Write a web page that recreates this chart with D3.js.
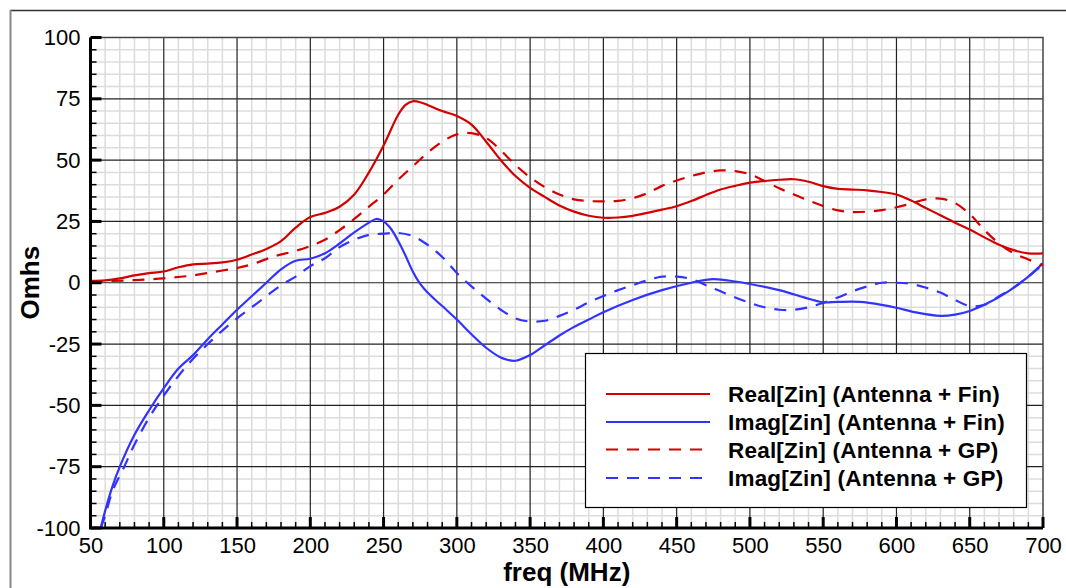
<!DOCTYPE html>
<html>
<head>
<meta charset="utf-8">
<script src="https://cdn.jsdelivr.net/npm/d3@7/dist/d3.min.js"></script>
<style>
  html, body { margin: 0; padding: 0; background: #fff; }
  svg { display: block; font-family: "Liberation Sans", Arial, sans-serif; }
</style>
</head>
<body>
<svg id="chart" width="1066" height="588"></svg>
<script>
// Input impedance of the antenna vs frequency
const freqFinReal = [50,60,70,80,90,100,110,120,130,140,150,160,170,180,190,200,210,220,230,240,250,260,265,270,275,280,290,300,310,320,330,340,350,360,370,380,390,400,410,420,430,440,450,460,470,480,490,500,510,520,530,540,550,560,570,580,590,600,610,620,630,640,650,660,670,680,690,700];
const realFin = [0.8,1,1.8,3,3.9,4.6,6.3,7.5,7.8,8.3,9.4,11.5,13.8,17,22.5,26.8,28.5,31,36,45,56,68.5,72.5,74,73.6,72.5,70,68,64.5,57.5,50,43.5,38.7,35,31.5,29,27.3,26.5,26.6,27.3,28.5,29.8,31.2,33.3,35.8,38,39.5,40.8,41.5,42,42.2,41.2,39.4,38.3,38,37.7,37,36,33.5,30.5,27.5,24.5,21.7,18.5,15.5,13.3,12,12];

const freqFinImag = [57,60,65,70,80,90,100,110,120,130,140,150,160,170,180,190,200,210,220,230,240,245,250,255,260,265,270,275,280,290,300,310,320,330,335,340,350,360,370,380,390,400,420,440,460,475,490,500,520,540,550,560,575,590,600,615,630,640,650,660,675,690,700];
const imagFin = [-100,-93,-83,-75,-62,-52,-43,-35,-29.5,-23,-17,-11,-5.5,0,5.5,9,9.8,12,16,20.5,24.5,26,25,22,17,11,4.5,-0.5,-4,-9.5,-15,-21,-26.5,-30.5,-31.5,-31.8,-29.5,-25.5,-21.5,-18,-15,-12,-7,-3,0,1.5,0.5,-0.5,-3,-6.5,-8,-7.8,-7.8,-9,-10.2,-12.3,-13.5,-13,-11.5,-9,-4,2.5,8];

const freqGpReal = [50,60,80,100,120,140,150,160,175,190,200,210,220,230,240,250,260,270,280,290,300,310,320,330,340,350,360,370,380,390,400,410,420,430,440,450,460,470,480,490,500,510,520,530,540,550,560,570,580,590,600,610,620,630,640,650,660,670,680,690,700];
const realGp = [0.3,0.6,1.1,1.8,3,5,6,7.5,10.7,13,15,17.5,21.5,26,31,36,42,47.5,53,57.5,60.5,61,59,54,48,43,39,36,34,33.3,33.2,33.4,34.5,36.5,39.5,41.7,43.5,45,45.8,45.5,44.2,41.5,38.5,36,33.5,31.3,29.5,28.8,29,29.6,30.8,32.3,34,34.3,32.5,28,21.5,16,12,9.5,7];

const freqGpImag = [57,60,65,73,80,90,100,110,120,130,140,150,160,170,180,190,200,210,220,230,240,250,260,270,280,290,300,310,320,330,340,350,360,370,380,390,400,410,420,430,440,450,460,470,480,490,500,510,520,530,540,550,560,570,580,590,600,610,620,630,640,650,660,670,680,690,700];
const imagGp = [-100,-95,-85,-75,-66,-55,-46,-38,-31,-25,-19.5,-14.5,-10,-5.5,-1,2.5,6.8,10,14.5,17.5,19.5,20,20.3,19,15.5,10.5,4,-1.5,-6.5,-11,-14.5,-15.8,-15.5,-13.5,-11,-8,-5.4,-3,-1,1,2.5,2.5,1.5,-1,-3.5,-6,-8.2,-10,-11,-11,-10,-8.2,-6,-3.5,-1.5,0,0,-0.5,-2,-4,-7,-9.5,-9,-5.5,-2,2.5,7.5];

const seriesNames = ["Real[Zin] (Antenna + Fin)", "Imag[Zin] (Antenna + Fin)", "Real[Zin] (Antenna + GP)", "Imag[Zin] (Antenna + GP)"];
const xTicks = [50,100,150,200,250,300,350,400,450,500,550,600,650,700];
const yTicks = [-100,-75,-50,-25,0,25,50,75,100];

const RED = "#d40000", BLUE = "#3333ff";
const series = [
  { name: seriesNames[0], f: freqFinReal, v: realFin, color: RED, dash: null },
  { name: seriesNames[1], f: freqFinImag, v: imagFin, color: BLUE, dash: null },
  { name: seriesNames[2], f: freqGpReal, v: realGp, color: RED, dash: "12,9" },
  { name: seriesNames[3], f: freqGpImag, v: imagGp, color: BLUE, dash: "12,9" }
];

const svg = d3.select("#chart");
const L = 90.5, R = 1043, T = 37.5, B = 528;
const x = d3.scaleLinear().domain([50, 700]).range([L, R]);
const y = d3.scaleLinear().domain([-100, 100]).range([B, T]);

// outer frame
svg.append("line").attr("x1", 10).attr("y1", 10.5).attr("x2", 1066).attr("y2", 10.5)
  .attr("stroke", "#333").attr("stroke-width", 1.5);
svg.append("line").attr("x1", 10.5).attr("y1", 10).attr("x2", 10.5).attr("y2", 588)
  .attr("stroke", "#888").attr("stroke-width", 2);

const g = svg.append("g");

// minor grid
const minorX = d3.range(60, 700, 10).filter(d => d % 50 !== 0);
const minorY = d3.range(-95, 100, 5).filter(d => d % 25 !== 0);
g.selectAll(".mgx").data(minorX).enter().append("line")
  .attr("x1", d => x(d)).attr("x2", d => x(d)).attr("y1", T).attr("y2", B)
  .attr("stroke", "#dcdcdc").attr("stroke-width", 1.5);
g.selectAll(".mgy").data(minorY).enter().append("line")
  .attr("y1", d => y(d)).attr("y2", d => y(d)).attr("x1", L).attr("x2", R)
  .attr("stroke", "#dcdcdc").attr("stroke-width", 1.5);

// major grid
g.selectAll(".Mgx").data(xTicks.slice(1, -1)).enter().append("line")
  .attr("x1", d => x(d)).attr("x2", d => x(d)).attr("y1", T).attr("y2", B)
  .attr("stroke", "#222").attr("stroke-width", 1.2);
g.selectAll(".Mgy").data(yTicks.slice(1, -1)).enter().append("line")
  .attr("y1", d => y(d)).attr("y2", d => y(d)).attr("x1", L).attr("x2", R)
  .attr("stroke", "#222").attr("stroke-width", 1.2);

// plot border (top/right)
g.append("path").attr("d", `M${L},${T}H${R}V${B}`).attr("fill", "none")
  .attr("stroke", "#444").attr("stroke-width", 1.5);

// curves
svg.append("clipPath").attr("id", "plotclip").append("rect")
  .attr("x", L).attr("y", T).attr("width", R - L).attr("height", B - T);
const line = d3.line().x(d => x(d[0])).y(d => y(d[1])).curve(d3.curveCatmullRom.alpha(0.5));
const curves = svg.append("g").attr("clip-path", "url(#plotclip)");
series.forEach(s => {
  curves.append("path")
    .datum(s.f.map((f, i) => [f, s.v[i]]))
    .attr("d", line)
    .attr("fill", "none")
    .attr("stroke", s.color)
    .attr("stroke-width", 2.2)
    .attr("stroke-dasharray", s.dash);
});

// axes with inward ticks
const xMinor = d3.range(50, 701, 10);
const yMinor = d3.range(-100, 101, 5);
const fmt = d => String(d);
const xAxis = d3.axisBottom(x).tickValues(xTicks).tickSize(0).tickPadding(9).tickFormat(fmt);
const yAxis = d3.axisLeft(y).tickValues(yTicks).tickSize(0).tickPadding(10).tickFormat(fmt);

const gx = svg.append("g").attr("transform", `translate(0,${B})`).call(xAxis);
const gy = svg.append("g").attr("transform", `translate(${L},0)`).call(yAxis);
[gx, gy].forEach(a => {
  a.select(".domain").remove();
  a.selectAll("text").attr("font-size", 22).attr("fill", "#000")
    .attr("font-family", "'Liberation Sans', Arial, sans-serif");
});

svg.append("g").selectAll("line").data(xMinor).enter().append("line")
  .attr("x1", d => x(d)).attr("x2", d => x(d)).attr("y1", B)
  .attr("y2", d => B - (d % 50 === 0 ? 11 : 6)).attr("stroke", "#000")
  .attr("stroke-width", d => d % 50 === 0 ? 3 : 1.5);
svg.append("g").selectAll("line").data(yMinor).enter().append("line")
  .attr("y1", d => y(d)).attr("y2", d => y(d)).attr("x1", L)
  .attr("x2", d => L + (d % 25 === 0 ? 11 : 6)).attr("stroke", "#000")
  .attr("stroke-width", d => d % 25 === 0 ? 3 : 1.5);

svg.append("path").attr("d", `M${L},${T}V${B}H${R}`).attr("fill", "none")
  .attr("stroke", "#000").attr("stroke-width", 3);

// axis titles
svg.append("text").attr("x", (L + R) / 2).attr("y", 581).attr("text-anchor", "middle")
  .attr("font-size", 26).attr("font-weight", "bold").text("freq (MHz)");
svg.append("text").attr("transform", `translate(39,${(T + B) / 2}) rotate(-90)`)
  .attr("text-anchor", "middle").attr("font-size", 26).attr("font-weight", "bold").text("Omhs");

// legend
const lg = svg.append("g");
lg.append("rect").attr("x", 585.5).attr("y", 353.5).attr("width", 441).attr("height", 154)
  .attr("fill", "#fff").attr("stroke", "#000").attr("stroke-width", 1.2);
const rowY = [394, 422, 449.5, 478];
series.forEach((s, i) => {
  lg.append("line").attr("x1", 606).attr("x2", 710).attr("y1", rowY[i]).attr("y2", rowY[i])
    .attr("stroke", s.color).attr("stroke-width", 2.2).attr("stroke-dasharray", s.dash);
  lg.append("text").attr("x", 728).attr("y", rowY[i] + 8).attr("font-size", 22.5)
    .attr("letter-spacing", 0.2).attr("font-weight", "bold").text(s.name);
});
</script>
</body>
</html>
